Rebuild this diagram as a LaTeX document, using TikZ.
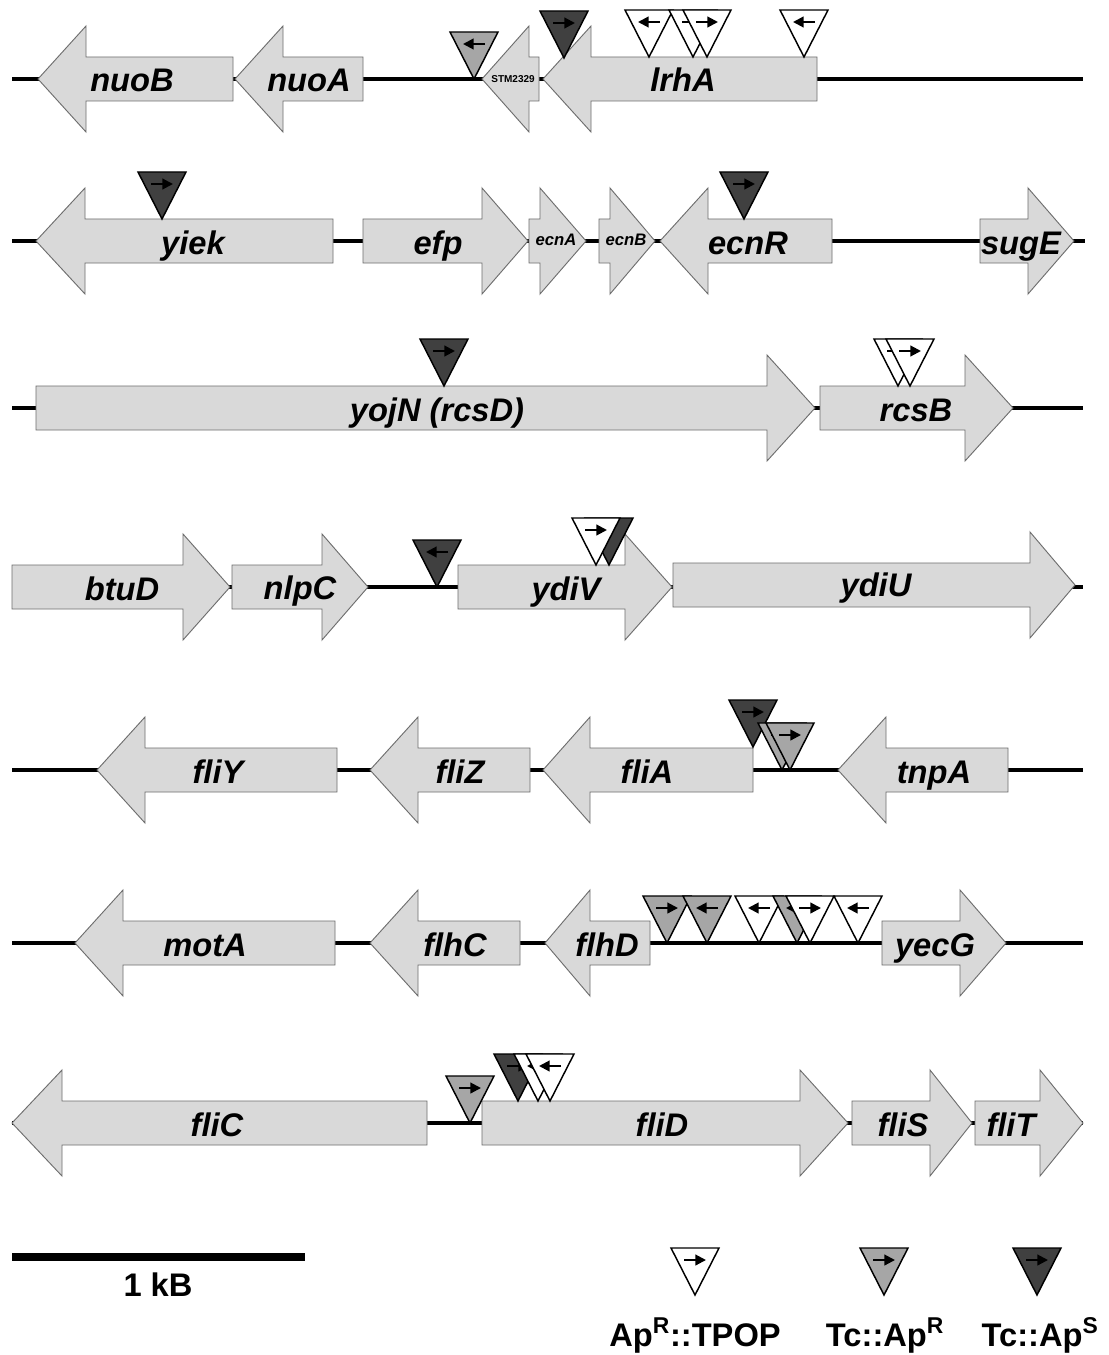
\documentclass[tikz,border=0pt]{standalone}
\usepackage{fontspec}
\setmainfont{Liberation Sans}
\usetikzlibrary{arrows.meta}
\definecolor{genefill}{HTML}{D9D9D9}
\definecolor{genedraw}{HTML}{6E6E6E}
\definecolor{midgrey}{HTML}{A6A6A6}
\definecolor{darkgrey}{HTML}{404040}
% gene pointing right: start, head base, tip, axis y
\newcommand{\GR}[4]{\draw[gene] (#1,{#4-22}) -- (#2,{#4-22}) -- (#2,{#4-53}) -- (#3,#4) -- (#2,{#4+53}) -- (#2,{#4+22}) -- (#1,{#4+22}) -- cycle;}
% gene pointing left: tip, head base, end, axis y
\newcommand{\GL}[4]{\draw[gene] (#3,{#4-22}) -- (#2,{#4-22}) -- (#2,{#4-53}) -- (#1,#4) -- (#2,{#4+53}) -- (#2,{#4+22}) -- (#3,{#4+22}) -- cycle;}
% insertion triangle: tip x, tip y, fill, direction
\newcommand{\Ins}[4]{%
  \draw[tri,fill=#3] (#1,#2) -- ({#1-24},{#2-47}) -- ({#1+24},{#2-47}) -- cycle;
  \draw[ins] ({#1-11*(#4)},{#2-35}) -- ({#1+11*(#4)},{#2-35});}
\newcommand{\InsN}[3]{%
  \draw[tri,fill=#3] (#1,#2) -- ({#1-24},{#2-47}) -- ({#1+24},{#2-47}) -- cycle;}
\begin{document}
\begin{tikzpicture}[x=0.75pt,y=-0.75pt,
  gene/.style={fill=genefill,draw=genedraw,line width=0.7pt,line join=miter},
  backbone/.style={line width=2.3pt},
  tri/.style={draw=black,line width=1.1pt,line join=miter},
  ins/.style={line width=1.6pt,-{Triangle[length=8pt,width=8pt]}},
  glab/.style={font=\fontsize{24.5pt}{28pt}\selectfont\bfseries\itshape,inner sep=0pt,anchor=base},
  slab/.style={font=\fontsize{12.5pt}{14pt}\selectfont\bfseries\itshape,inner sep=0pt,anchor=base},
  tlab/.style={font=\fontsize{7.5pt}{9pt}\selectfont\bfseries,inner sep=0pt,anchor=base},
  llab/.style={font=\fontsize{24.5pt}{28pt}\selectfont\bfseries,inner sep=0pt,anchor=base}]
\useasboundingbox[fill=white] (0,0) rectangle (1108,1355);

% ---------- Row 1 ----------
\draw[backbone] (12,79) -- (1083,79);
\GL{38}{86}{233}{79}
\GL{235}{283}{363}{79}
\GL{482}{529}{539}{79}
\GL{543}{591}{817}{79}
\node[glab] (nuoB) at (132,92) {nuoB};
\node[glab] (nuoA) at (309,92) {nuoA};
\node[tlab] (stm) at (513,83) {STM2329};
\node[glab] (lrhA) at (683,92) {lrhA};
\Ins{474}{79}{midgrey}{-1}
\Ins{564}{58}{darkgrey}{1}
\Ins{649}{57}{white}{-1}
\Ins{693}{57}{white}{1}
\Ins{707}{57}{white}{1}
\Ins{804}{57}{white}{-1}

% ---------- Row 2 ----------
\draw[backbone] (12,241) -- (1085,241);
\GL{36}{85}{333}{241}
\GR{363}{482}{528}{241}
\GR{529}{540}{586}{241}
\GR{599}{610}{655}{241}
\GL{660}{708}{832}{241}
\GR{980}{1028}{1074}{241}
\node[glab] (yiek) at (193,254) {yiek};
\node[glab] (efp) at (438,254) {efp};
\node[slab] (ecnA) at (556,246) {ecnA};
\node[slab] (ecnB) at (626,246) {ecnB};
\node[glab] (ecnR) at (748,254) {ecnR};
\node[glab] (sugE) at (1021,254) {sugE};
\Ins{162}{219}{darkgrey}{1}
\Ins{744}{219}{darkgrey}{1}

% ---------- Row 3 ----------
\draw[backbone] (12,408) -- (1083,408);
\GR{36}{767}{815}{408}
\GR{820}{965}{1013}{408}
\node[glab] (yojN) at (437,421) {yojN (rcsD)};
\node[glab] (rcsB) at (916,421) {rcsB};
\Ins{444}{386}{darkgrey}{1}
\Ins{898}{386}{white}{1}
\Ins{910}{386}{white}{1}

% ---------- Row 4 ----------
\draw[backbone] (12,587) -- (1083,587);
\GR{12}{183}{230}{587}
\GR{232}{322}{368}{587}
\GR{458}{625}{672}{587}
\GR{673}{1030}{1075}{585}
\node[glab] (btuD) at (122,600) {btuD};
\node[glab] (nlpC) at (300,599) {nlpC};
\node[glab] (ydiV) at (566,600) {ydiV};
\node[glab] (ydiU) at (876,596) {ydiU};
\Ins{437}{587}{darkgrey}{-1}
\InsN{609}{565}{darkgrey}
\Ins{596}{565}{white}{1}

% ---------- Row 5 ----------
\draw[backbone] (12,770) -- (1083,770);
\GL{97}{145}{337}{770}
\GL{370}{418}{530}{770}
\GL{543}{590}{753}{770}
\GL{838}{886}{1008}{770}
\node[glab] (fliY) at (218,783) {fliY};
\node[glab] (fliZ) at (460,783) {fliZ};
\node[glab] (fliA) at (647,783) {fliA};
\node[glab] (tnpA) at (934,783) {tnpA};
\Ins{753}{747}{darkgrey}{1}
\Ins{782}{770}{midgrey}{1}
\Ins{790}{770}{midgrey}{1}

% ---------- Row 6 ----------
\draw[backbone] (12,943) -- (1083,943);
\GL{75}{123}{335}{943}
\GL{370}{418}{520}{943}
\GL{545}{590}{650}{943}
\GR{882}{960}{1006}{943}
\node[glab] (motA) at (205,956) {motA};
\node[glab] (flhC) at (455,956) {flhC};
\node[glab] (flhD) at (607,956) {flhD};
\node[glab] (yecG) at (935,956) {yecG};
\Ins{667}{943}{midgrey}{1}
\Ins{707}{943}{midgrey}{-1}
\Ins{759}{943}{white}{-1}
\Ins{797}{943}{midgrey}{-1}
\Ins{810}{943}{white}{1}
\Ins{858}{943}{white}{-1}

% ---------- Row 7 ----------
\draw[backbone] (12,1123) -- (1083,1123);
\GL{12}{62}{427}{1123}
\GR{482}{800}{848}{1123}
\GR{852}{930}{972}{1123}
\GR{975}{1040}{1083}{1123}
\node[glab] (fliC) at (217,1136) {fliC};
\node[glab] (fliD) at (662,1136) {fliD};
\node[glab] (fliS) at (903,1136) {fliS};
\node[glab] (fliT) at (1011,1136) {fliT};
\Ins{470}{1123}{midgrey}{1}
\Ins{518}{1101}{darkgrey}{1}
\Ins{538}{1101}{white}{-1}
\Ins{550}{1101}{white}{-1}

% ---------- Scale bar ----------
\coordinate (sbA) at (12,1257);
\coordinate (sbB) at (305,1257);
\draw[line width=6pt] (sbA) -- (sbB);
\node[llab] (kb) at (158,1296) {1 kB};

% ---------- Legend ----------
\Ins{695}{1295}{white}{1}
\Ins{884}{1295}{midgrey}{1}
\Ins{1037}{1295}{darkgrey}{1}
\node[llab] (lg1) at (695,1346) {Ap\textsuperscript{R}::TPOP};
\node[llab] (lg2) at (885,1346) {Tc::Ap\textsuperscript{R}};
\node[llab] (lg3) at (1040,1346) {Tc::Ap\textsuperscript{S}};
\end{tikzpicture}
\end{document}
